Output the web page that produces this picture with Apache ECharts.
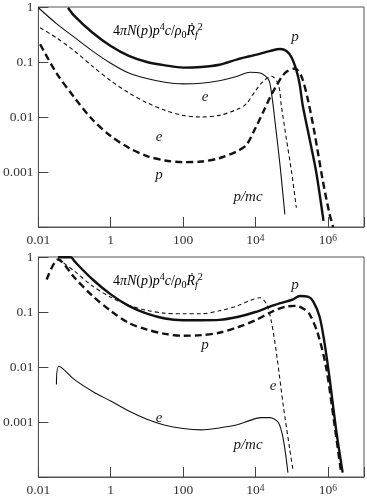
<!DOCTYPE html>
<html>
<head>
<meta charset="utf-8">
<script src="https://cdn.jsdelivr.net/npm/echarts@6/dist/echarts.min.js"></script>
<style>
html,body{margin:0;padding:0;background:#fff}
#main{width:367px;height:497px}
</style>
</head>
<body>
<div id="main"></div>
<script>
// tick labels
const xTickValues=[0.01,1,100,1e4,1e6];
const xTickText=['0.01','1','100','10{s|4}','10{s|6}'];
const yTickValues=[1,0.1,0.01,0.001];
const yTickText=['1','0.1','0.01','0.001'];

// upper panel  [p/mc, value]
const topProtonSolid=[[0.066,0.97],[0.1,0.68],[0.316,0.34],[1,0.195],[3.16,0.129],[10,0.1],[31.6,0.087],[100,0.079],[316,0.081],[1000,0.089],[3160,0.112],[1e4,0.135],[2.5e4,0.158],[4.8e4,0.172],[7.2e4,0.158],[1e5,0.12],[1.35e5,0.071],[1.66e5,0.04],[2.04e5,0.0158],[3.16e5,0.0039],[4.8e5,0.00098],[7.6e5,0.000129]];
const topElectronSolid=[[0.01,0.97],[0.0316,0.5],[0.1,0.28],[0.316,0.158],[1,0.095],[3.16,0.063],[10,0.05],[31.6,0.0427],[100,0.04],[316,0.041],[1000,0.0457],[3160,0.055],[7100,0.065],[1.35e4,0.063],[2.3e4,0.048],[2.8e4,0.026],[3.5e4,0.0079],[4.8e4,0.00129],[6.5e4,0.00017]];
const topElectronDash=[[0.0112,0.42],[0.0316,0.275],[0.1,0.158],[0.316,0.083],[1,0.0457],[3.16,0.0275],[10,0.0182],[31.6,0.0132],[100,0.0107],[316,0.01],[1000,0.0107],[3160,0.0138],[5620,0.0174],[1e4,0.03],[1.66e4,0.045],[2.8e4,0.055],[4.3e4,0.039],[5.2e4,0.0158],[7.2e4,0.0039],[1e5,0.00098],[1.35e5,0.000224]];
const topProtonDash=[[0.0112,0.21],[0.0316,0.063],[0.1,0.0224],[0.316,0.0089],[1,0.0045],[3.16,0.00275],[10,0.00195],[31.6,0.00162],[100,0.00151],[316,0.00155],[1000,0.00178],[3160,0.0024],[5620,0.0031],[1e4,0.0063],[1.66e4,0.0126],[2.5e4,0.0224],[3.8e4,0.037],[6.5e4,0.063],[1.23e5,0.076],[1.86e5,0.055],[2.8e5,0.021],[4.3e5,0.0051],[7.2e5,0.00072],[1.1e6,0.00018],[1.4e6,0.0001]];

// lower panel
const botProtonSolid=[[0.035,0.99],[0.079,0.99],[0.1,0.83],[0.316,0.39],[1,0.209],[3.16,0.129],[10,0.093],[31.6,0.076],[100,0.071],[316,0.071],[1000,0.072],[3160,0.081],[1e4,0.1],[3.1e4,0.132],[1.1e5,0.17],[1.66e5,0.195],[2.8e5,0.19],[3.9e5,0.158],[5.9e5,0.083],[8.1e5,0.0275],[1.1e6,0.0068],[1.7e6,0.00072],[2.57e6,0.00012]];
const botProtonDash=[[0.017,0.39],[0.035,0.9],[0.1,0.42],[0.316,0.195],[1,0.105],[3.16,0.063],[10,0.048],[31.6,0.04],[100,0.037],[316,0.038],[1000,0.042],[3160,0.0525],[1e4,0.071],[3.1e4,0.104],[7.1e4,0.126],[1.35e5,0.129],[2.24e5,0.112],[3.16e5,0.09],[5.2e5,0.042],[8.9e5,0.0102],[1.5e6,0.00098],[2.3e6,0.000129]];
const botElectronDash=[[0.035,0.93],[0.1,0.55],[0.316,0.295],[1,0.186],[3.16,0.132],[10,0.107],[31.6,0.095],[100,0.093],[316,0.093],[1000,0.105],[3160,0.129],[7100,0.162],[1.35e4,0.182],[2.04e4,0.138],[2.8e4,0.063],[3.9e4,0.0158],[5.9e4,0.00195],[8.9e4,0.000316],[1.1e5,0.000129]];
const botElectronSolid=[[0.0316,0.0048],[0.037,0.0103],[0.1,0.0059],[0.316,0.0036],[1,0.0024],[3.16,0.00158],[10,0.00112],[31.6,0.00087],[100,0.00076],[316,0.00072],[1000,0.00078],[3160,0.00089],[7100,0.00107],[1.4e4,0.0012],[2.5e4,0.0012],[4.3e4,0.00098],[5.9e4,0.00048],[7.9e4,0.00012]];

const serif="'Liberation Serif', 'DejaVu Serif', serif";
const ink='#111';

function findIdx(vals,v){
    return vals.findIndex(t=>Math.abs(Math.log10(t)-Math.log10(v))<1e-6);
}

function xAxisOf(i){
    return {
        gridIndex:i, type:'log', logBase:10, min:0.01, max:1e7, interval:2,
        axisLine:{show:true,lineStyle:{color:'#555',width:1}},
        axisTick:{show:true,inside:true,length:10,lineStyle:{color:'#444',width:1}},
        minorTick:{show:false},
        splitLine:{show:false},
        axisLabel:{
            margin:6, color:'#333', fontFamily:serif, fontSize:13.5,
            formatter:v=>{const k=findIdx(xTickValues,v);return k<0?'':xTickText[k];},
            rich:{s:{fontFamily:serif,fontSize:9.5,lineHeight:9,verticalAlign:'top',color:'#333'}}
        }
    };
}
function yAxisOf(i){
    return {
        gridIndex:i, type:'log', logBase:10, min:1e-4, max:1, interval:1,
        axisLine:{show:true,lineStyle:{color:'#555',width:1}},
        axisTick:{show:true,inside:true,length:10,lineStyle:{color:'#444',width:1}},
        splitLine:{show:false},
        axisLabel:{
            margin:5, color:'#333', fontFamily:serif, fontSize:13.5,
            formatter:v=>{const k=findIdx(yTickValues,v);return k<0?'':yTickText[k];}
        }
    };
}

function curve(data,i,thick,dashed){
    return {
        type:'line', xAxisIndex:i, yAxisIndex:i, data:data,
        showSymbol:false, symbol:'none', smooth:0.3,
        lineStyle:{color:ink, width:thick?2.4:1.1, type:dashed?(thick?[7,4]:[4,3]):'solid'},
        silent:true
    };
}

const formulaRich={
    t:{fontFamily:serif,fontStyle:'italic',fontSize:14,lineHeight:18,color:'#222'},
    n:{fontFamily:serif,fontSize:14,lineHeight:18,color:'#222'},
    s:{fontFamily:serif,fontSize:10,lineHeight:9,verticalAlign:'top',color:'#222'},
    b:{fontFamily:serif,fontSize:10,lineHeight:9,verticalAlign:'bottom',color:'#222'},
    bi:{fontFamily:serif,fontStyle:'italic',fontSize:10,lineHeight:9,verticalAlign:'bottom',color:'#222'}
};
const formula='{n|4}{t|πN}{n|(}{t|p}{n|)}{t|p}{s|4}{t|c}{n|/}{t|ρ}{b|0}{t|Ṙ}{bi|f}{s|2}';

function label(txt,x,y){
    return {type:'text',x:x,y:y,silent:true,
        style:{text:txt,fill:'#222',fontFamily:serif,fontStyle:'italic',fontSize:15,align:'center',verticalAlign:'middle'}};
}
function formulaAt(y){
    return {type:'text',x:113,y:y,silent:true,style:{text:formula,rich:formulaRich,verticalAlign:'middle'}};
}

const chart=echarts.init(document.getElementById('main'));
chart.setOption({
    animation:false,
    backgroundColor:'#fff',
    grid:[
        {left:36,top:7,width:329,height:220,show:true,borderColor:'#555',borderWidth:1,backgroundColor:'transparent'},
        {left:36,top:257,width:329,height:220,show:true,borderColor:'#555',borderWidth:1,backgroundColor:'transparent'}
    ],
    xAxis:[xAxisOf(0),xAxisOf(1)],
    yAxis:[yAxisOf(0),yAxisOf(1)],
    series:[
        curve(topProtonSolid,0,true,false),
        curve(topElectronSolid,0,false,false),
        curve(topElectronDash,0,false,true),
        curve(topProtonDash,0,true,true),
        curve(botProtonSolid,1,true,false),
        curve(botProtonDash,1,true,true),
        curve(botElectronDash,1,false,true),
        curve(botElectronSolid,1,false,false)
    ],
    graphic:[
        formulaAt(31),
        label('p',295,37), label('e',205,97), label('e',159,137), label('p',159,175), label('p/mc',248,197),
        formulaAt(281),
        label('p',295,285), label('p',205,345), label('e',273,386), label('e',159,418), label('p/mc',248,445)
    ]
});
</script>
</body>
</html>
